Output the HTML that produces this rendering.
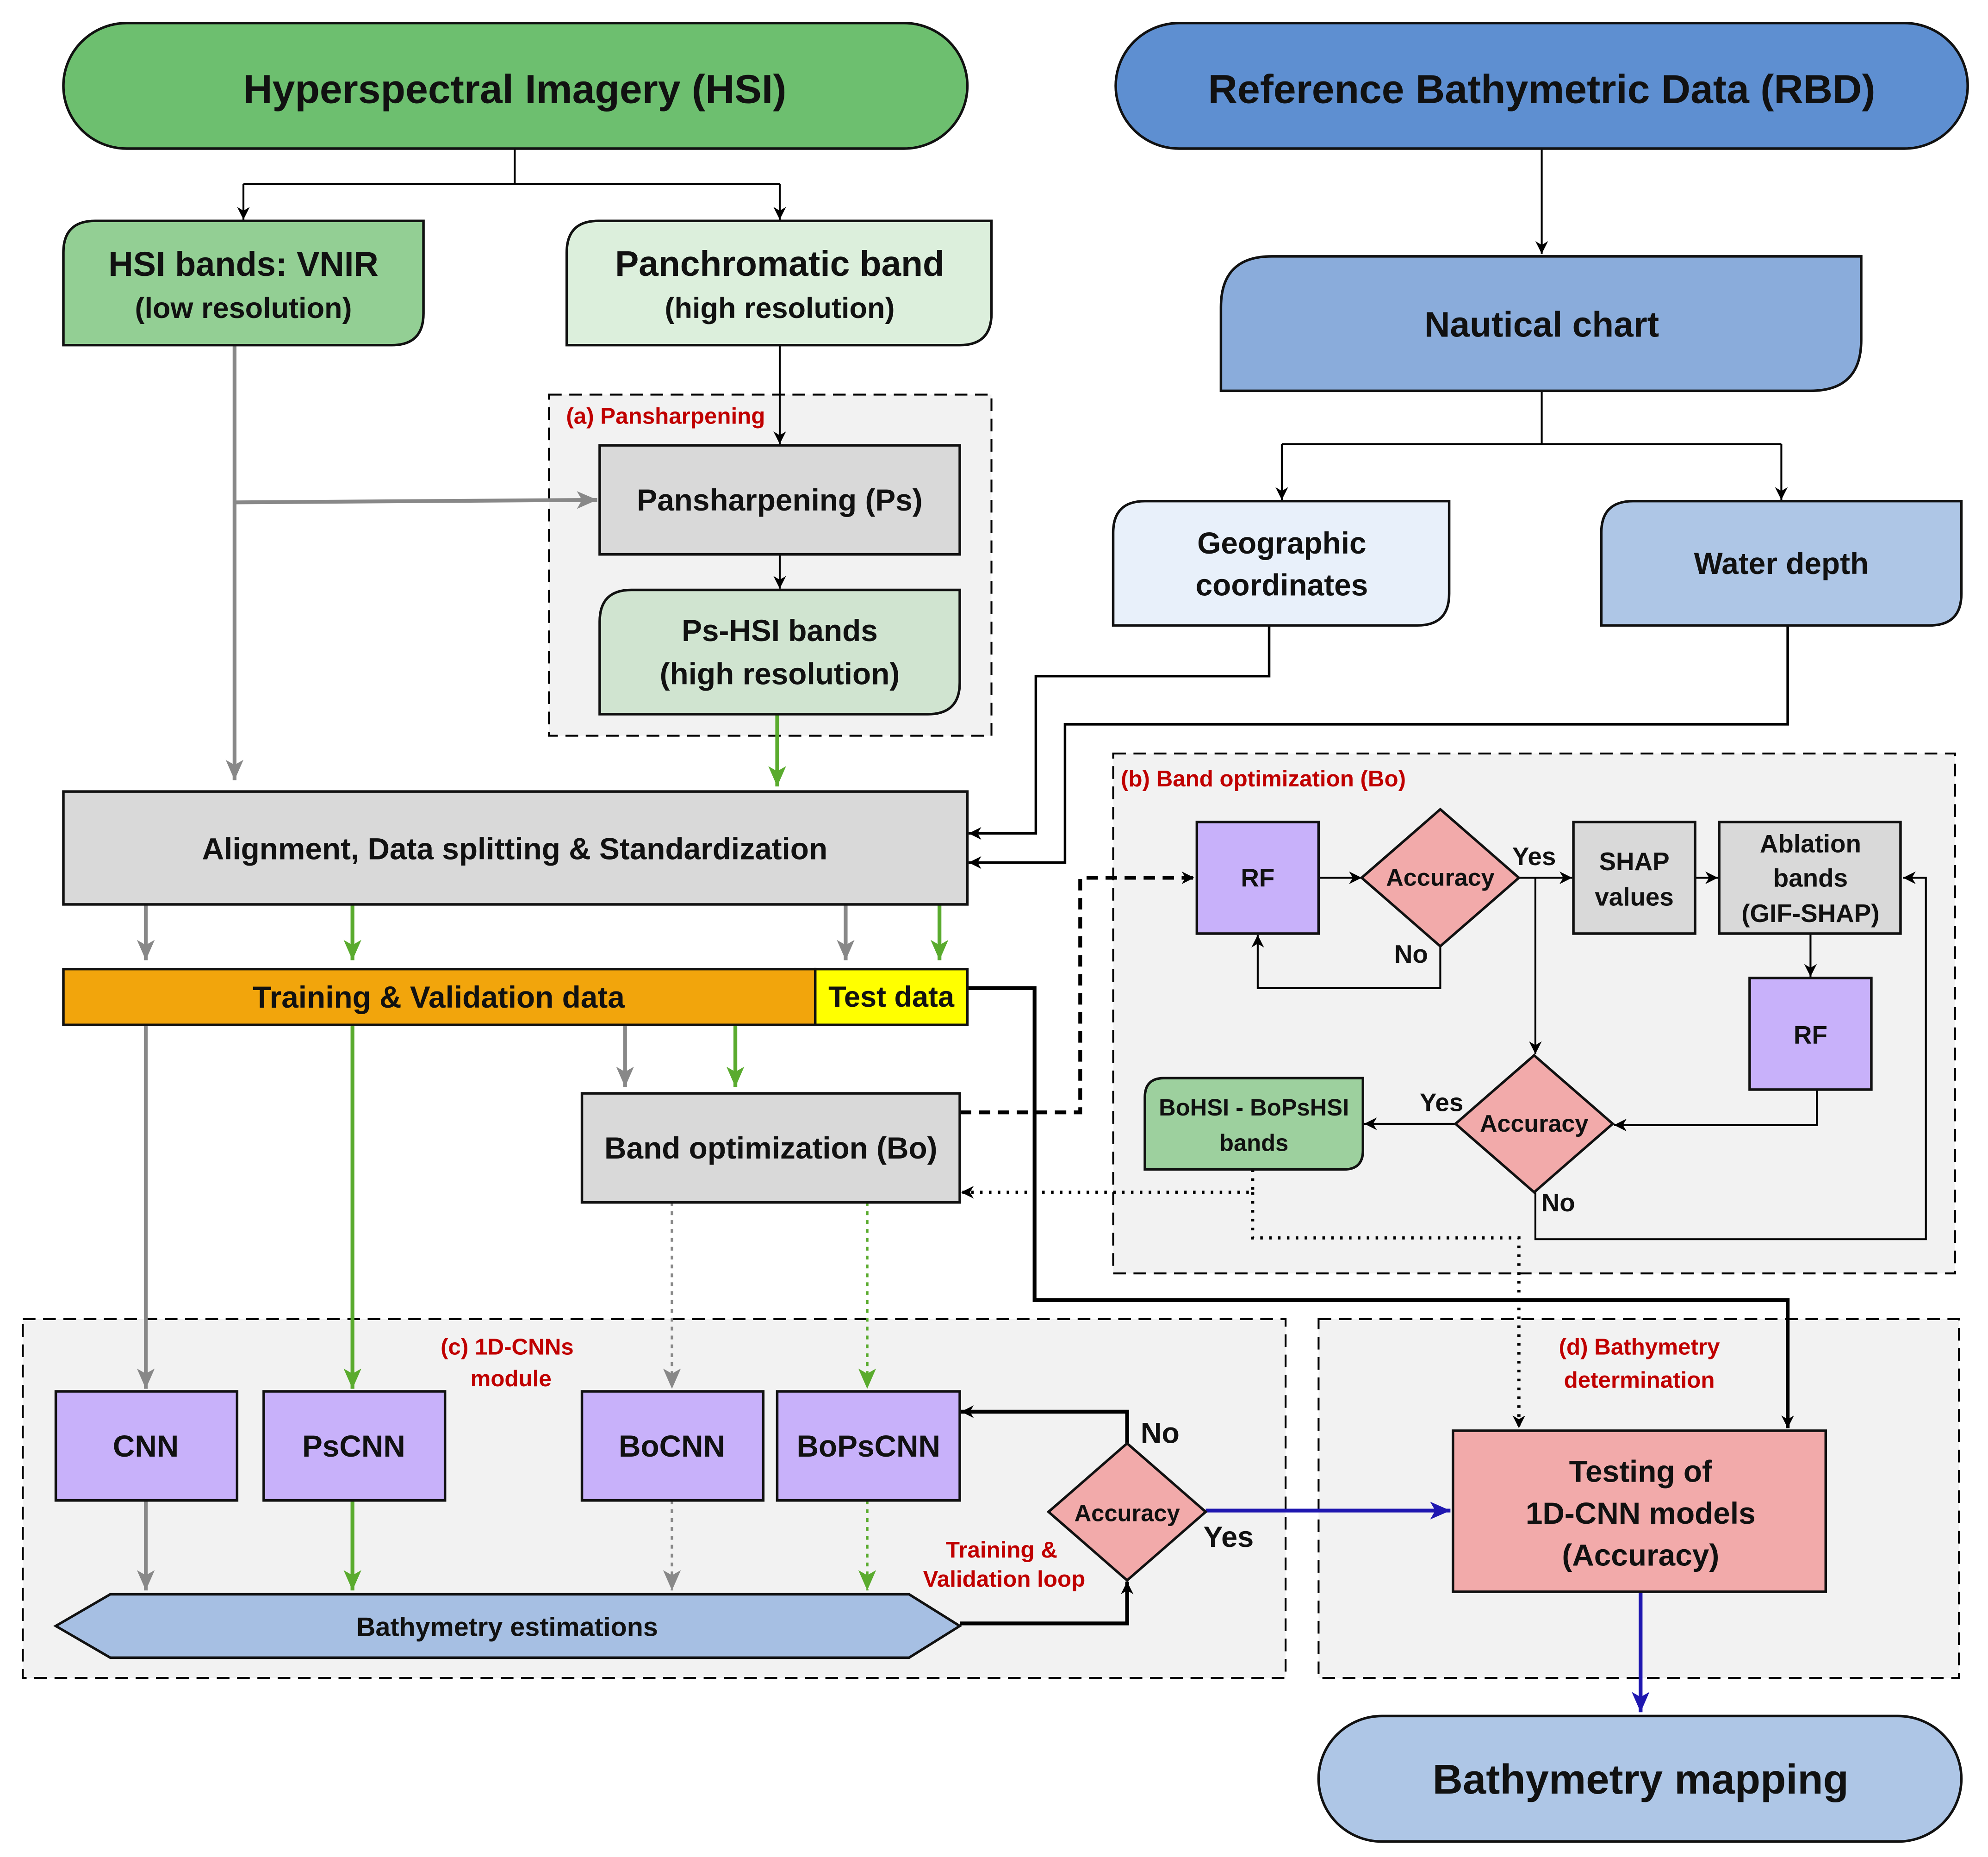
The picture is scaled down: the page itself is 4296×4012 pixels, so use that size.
<!DOCTYPE html>
<html><head><meta charset="utf-8"><style>
html,body{margin:0;padding:0;background:#fff;}
svg{display:block;}
text{font-family:"Liberation Sans",sans-serif;font-weight:bold;text-anchor:middle;dominant-baseline:central;fill:#111;}
.r{fill:#c00000;font-weight:bold;}
</style></head><body>
<svg width="4296" height="4012" viewBox="0 0 1568 1464" xmlns="http://www.w3.org/2000/svg">
<defs>
<marker id="ak" markerUnits="userSpaceOnUse" markerWidth="12" markerHeight="12" refX="10" refY="5" orient="auto"><path d="M0,0 L10,5 L0,10 L3,5 z" fill="#000"/></marker>
<marker id="ag" markerUnits="userSpaceOnUse" markerWidth="18" markerHeight="18" refX="16" refY="7" orient="auto"><path d="M0,0 L16,7 L0,14 L4,7 z" fill="#888"/></marker>
<marker id="agr" markerUnits="userSpaceOnUse" markerWidth="18" markerHeight="18" refX="16" refY="7" orient="auto"><path d="M0,0 L16,7 L0,14 L4,7 z" fill="#5aab2e"/></marker>
<marker id="ab" markerUnits="userSpaceOnUse" markerWidth="18" markerHeight="18" refX="16" refY="7" orient="auto"><path d="M0,0 L16,7 L0,14 L4,7 z" fill="#1f17b0"/></marker>
</defs>

<rect x="433" y="311" width="349" height="269" fill="#f2f2f2" stroke="#000" stroke-width="1.5" stroke-dasharray="10,6"/>
<rect x="878" y="594" width="664" height="410" fill="#f2f2f2" stroke="#000" stroke-width="1.5" stroke-dasharray="10,6"/>
<rect x="18" y="1040" width="996" height="283" fill="#f2f2f2" stroke="#000" stroke-width="1.5" stroke-dasharray="10,6"/>
<rect x="1040" y="1040" width="505" height="283" fill="#f2f2f2" stroke="#000" stroke-width="1.5" stroke-dasharray="10,6"/>
<text x="525" y="328" class="r" font-size="18">(a) Pansharpening</text>
<text x="884" y="614" class="r" font-size="18" style="text-anchor:start">(b) Band optimization (Bo)</text>
<text x="400" y="1062" class="r" font-size="18">(c) 1D-CNNs</text>
<text x="403" y="1087" class="r" font-size="18">module</text>
<text x="1293" y="1062" class="r" font-size="18">(d) Bathymetry</text>
<text x="1293" y="1088" class="r" font-size="18">determination</text>
<text x="790" y="1222" class="r" font-size="18">Training &amp;</text>
<text x="792" y="1245" class="r" font-size="18">Validation loop</text>

<g fill="none" stroke="#000" stroke-width="1.5">
<path d="M406,117 V145 M192,145 H615"/>
<path d="M192,145 V173" marker-end="url(#ak)"/>
<path d="M615,145 V173" marker-end="url(#ak)"/>
<path d="M1216,117 V200" marker-end="url(#ak)"/>
<path d="M1216,308 V350 M1011,350 H1405"/>
<path d="M1011,350 V394" marker-end="url(#ak)"/>
<path d="M1405,350 V394" marker-end="url(#ak)"/>
<path d="M615,272 V350" marker-end="url(#ak)"/>
<path d="M615,437 V464" marker-end="url(#ak)"/>
<path d="M1001,493 V533 H817 V657 H764" stroke-width="2" marker-end="url(#ak)"/>
<path d="M1410,493 V571 H840 V680 H764" stroke-width="2" marker-end="url(#ak)"/>
<path d="M1040,692 H1074" marker-end="url(#ak)"/>
<path d="M1198,692 H1240" marker-end="url(#ak)"/>
<path d="M1337,692 H1355" marker-end="url(#ak)"/>
<path d="M1136,746 V779 H992 V737" marker-end="url(#ak)"/>
<path d="M1211,692 V831" marker-end="url(#ak)"/>
<path d="M1428,736 V770" marker-end="url(#ak)"/>
<path d="M1433,859 V887 H1273" marker-end="url(#ak)"/>
<path d="M1148,886 H1076" marker-end="url(#ak)"/>
<path d="M1211,940 V977 H1519 V692 H1501" marker-end="url(#ak)"/>
<path d="M763,779 H816 V1025 H1410 V1126" stroke-width="3" marker-end="url(#ak)"/>
<path d="M757,1280 H889 V1247" stroke-width="3" marker-end="url(#ak)"/>
<path d="M889,1138 V1113 H758" stroke-width="3" marker-end="url(#ak)"/>
<path d="M757,877 H852 V692 H942" stroke-width="3" stroke-dasharray="9,6" marker-end="url(#ak)"/>
<path d="M988,922 V940 H758" stroke-width="2.5" stroke-dasharray="2,5" marker-end="url(#ak)"/>
<path d="M988,940 V976 H1198 V1126" stroke-width="2.5" stroke-dasharray="2,5" marker-end="url(#ak)"/>
</g>
<g fill="none" stroke="#888" stroke-width="3">
<path d="M185,272 V615" marker-end="url(#ag)"/>
<path d="M185,396 L471,394" marker-end="url(#ag)"/>
<path d="M115,713 V757" marker-end="url(#ag)"/>
<path d="M667,713 V757" marker-end="url(#ag)"/>
<path d="M115,808 V1095" marker-end="url(#ag)"/>
<path d="M493,808 V857" marker-end="url(#ag)"/>
<path d="M115,1183 V1254" marker-end="url(#ag)"/>
<path d="M530,948 V1095" stroke-width="2" stroke-dasharray="3,4" marker-end="url(#ag)"/>
<path d="M530,1183 V1254" stroke-width="2" stroke-dasharray="3,4" marker-end="url(#ag)"/>
</g>
<g fill="none" stroke="#5aab2e" stroke-width="3">
<path d="M613,563 V620" marker-end="url(#agr)"/>
<path d="M278,713 V757" marker-end="url(#agr)"/>
<path d="M741,713 V757" marker-end="url(#agr)"/>
<path d="M278,808 V1095" marker-end="url(#agr)"/>
<path d="M580,808 V857" marker-end="url(#agr)"/>
<path d="M278,1183 V1254" marker-end="url(#agr)"/>
<path d="M684,948 V1095" stroke-width="2" stroke-dasharray="3,4" marker-end="url(#agr)"/>
<path d="M684,1183 V1254" stroke-width="2" stroke-dasharray="3,4" marker-end="url(#agr)"/>
</g>
<g fill="none" stroke="#1f17b0" stroke-width="3">
<path d="M951,1191 H1144" marker-end="url(#ab)"/>
<path d="M1294,1255 V1350" marker-end="url(#ab)"/>
</g>

<g stroke="#111" stroke-width="2">
<rect x="50" y="18" width="713" height="99" rx="50" fill="#6dbf6f"/>
<rect x="880" y="18" width="672" height="99" rx="50" fill="#5e8fd1"/>
<path d="M75,174 H334 V247 Q334,272 309,272 H50 V199 Q50,174 75,174 Z" fill="#93cf94"/>
<path d="M472,174 H782 V247 Q782,272 757,272 H447 V199 Q447,174 472,174 Z" fill="#dcefdc"/>
<path d="M1003,202 H1468 V268 Q1468,308 1428,308 H963 V242 Q963,202 1003,202 Z" fill="#8aacdb"/>
<path d="M903,395 H1143 V468 Q1143,493 1118,493 H878 V420 Q878,395 903,395 Z" fill="#e8f0fa"/>
<path d="M1288,395 H1547 V468 Q1547,493 1522,493 H1263 V420 Q1263,395 1288,395 Z" fill="#aec6e6"/>
<rect x="473" y="351" width="284" height="86" fill="#d9d9d9"/>
<path d="M498,465 H757 V538 Q757,563 732,563 H473 V490 Q473,465 498,465 Z" fill="#d0e4d0"/>
<rect x="50" y="624" width="713" height="89" fill="#d9d9d9"/>
<rect x="50" y="764" width="593" height="44" fill="#f2a50c"/>
<rect x="643" y="764" width="120" height="44" fill="#ffff00"/>
<rect x="459" y="862" width="298" height="86" fill="#d9d9d9"/>
<rect x="944" y="648" width="96" height="88" fill="#c8b1fa"/>
<polygon points="1136,638 1198,692 1136,746 1074,692" fill="#f2aaaa"/>
<rect x="1241" y="648" width="96" height="88" fill="#d9d9d9"/>
<rect x="1356" y="648" width="143" height="88" fill="#d9d9d9"/>
<rect x="1380" y="771" width="96" height="88" fill="#c8b1fa"/>
<polygon points="1210,832 1272,886 1210,940 1148,886" fill="#f2aaaa"/>
<path d="M918,850 H1075 V907 Q1075,922 1060,922 H903 V865 Q903,850 918,850 Z" fill="#9dd09e"/>
<rect x="44" y="1097" width="143" height="86" fill="#c8b1fa"/>
<rect x="208" y="1097" width="143" height="86" fill="#c8b1fa"/>
<rect x="459" y="1097" width="143" height="86" fill="#c8b1fa"/>
<rect x="613" y="1097" width="144" height="86" fill="#c8b1fa"/>
<polygon points="44,1282 87,1257 717,1257 757,1282 717,1307 87,1307" fill="#a6bfe3"/>
<polygon points="889,1138 951,1192 889,1246 827,1192" fill="#f2aaaa"/>
<rect x="1146" y="1128" width="294" height="127" fill="#f2aaaa"/>
<rect x="1040" y="1353" width="507" height="99" rx="50" fill="#aec6e6"/>
</g>

<text x="406" y="70" font-size="32">Hyperspectral Imagery (HSI)</text>
<text x="1216" y="70" font-size="32">Reference Bathymetric Data (RBD)</text>
<text x="192" y="208" font-size="27">HSI bands: VNIR</text>
<text x="192" y="243" font-size="23">(low resolution)</text>
<text x="615" y="208" font-size="28">Panchromatic band</text>
<text x="615" y="243" font-size="23">(high resolution)</text>
<text x="1216" y="256" font-size="28">Nautical chart</text>
<text x="1011" y="428" font-size="24">Geographic</text>
<text x="1011" y="461" font-size="24">coordinates</text>
<text x="1405" y="444" font-size="24">Water depth</text>
<text x="615" y="394" font-size="24">Pansharpening (Ps)</text>
<text x="615" y="497" font-size="24">Ps-HSI bands</text>
<text x="615" y="531" font-size="24">(high resolution)</text>
<text x="406" y="669" font-size="24">Alignment, Data splitting &amp; Standardization</text>
<text x="346" y="786" font-size="24">Training &amp; Validation data</text>
<text x="703" y="786" font-size="23">Test data</text>
<text x="608" y="905" font-size="24">Band optimization (Bo)</text>
<text x="992" y="692" font-size="20">RF</text>
<text x="1136" y="692" font-size="19">Accuracy</text>
<text x="1210" y="675" font-size="20">Yes</text>
<text x="1113" y="752" font-size="20">No</text>
<text x="1289" y="679" font-size="20">SHAP</text>
<text x="1289" y="707" font-size="20">values</text>
<text x="1428" y="665" font-size="20">Ablation</text>
<text x="1428" y="692" font-size="20">bands</text>
<text x="1428" y="720" font-size="20">(GIF-SHAP)</text>
<text x="1428" y="816" font-size="20">RF</text>
<text x="1210" y="886" font-size="19">Accuracy</text>
<text x="1137" y="869" font-size="20">Yes</text>
<text x="1229" y="948" font-size="20">No</text>
<text x="989" y="873" font-size="18.5">BoHSI - BoPsHSI</text>
<text x="989" y="901" font-size="18.5">bands</text>
<text x="115" y="1140" font-size="24">CNN</text>
<text x="279" y="1140" font-size="24">PsCNN</text>
<text x="530" y="1140" font-size="24">BoCNN</text>
<text x="685" y="1140" font-size="24">BoPsCNN</text>
<text x="400" y="1283" font-size="21">Bathymetry estimations</text>
<text x="889" y="1193" font-size="18.5">Accuracy</text>
<text x="915" y="1130" font-size="23">No</text>
<text x="969" y="1212" font-size="23">Yes</text>
<text x="1294" y="1160" font-size="24">Testing of</text>
<text x="1294" y="1193" font-size="24">1D-CNN models</text>
<text x="1294" y="1226" font-size="24">(Accuracy)</text>
<text x="1294" y="1403" font-size="33">Bathymetry mapping</text>
</svg>
</body></html>
